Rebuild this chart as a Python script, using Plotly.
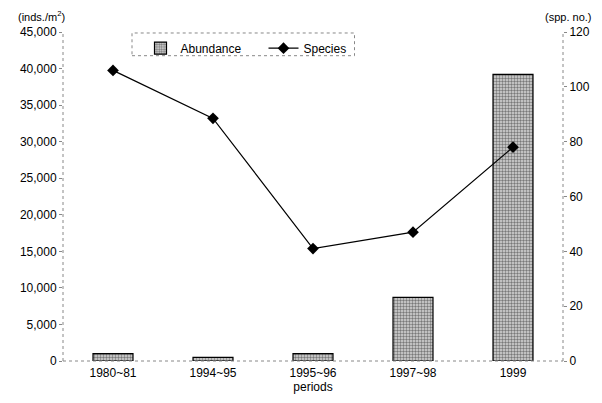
import plotly.graph_objects as go

periods = ["1980~81", "1994~95", "1995~96", "1997~98", "1999"]
abundance = [1000, 500, 1000, 8700, 39200]
species = [106, 88.5, 41, 47, 78]
left_ticks = [0, 5000, 10000, 15000, 20000, 25000, 30000, 35000, 40000, 45000]
right_ticks = [0, 20, 40, 60, 80, 100, 120]

fig = go.Figure()
fig.add_trace(go.Bar(
    x=periods, y=abundance, name="Abundance",
    marker=dict(color="#bdbdbd", line=dict(color="black", width=1.2),
                pattern=dict(shape=".", fgcolor="#1a1a1a", bgcolor="#d8d8d8", size=3, solidity=0.5)),
    yaxis="y"))
fig.add_trace(go.Scatter(
    x=periods, y=species, name="Species", mode="lines+markers",
    line=dict(color="black", width=1.2),
    marker=dict(symbol="diamond", size=9, color="black"),
    yaxis="y2"))

axis_common = dict(showgrid=False, zeroline=False, showline=False,
                   ticks="outside", ticklen=3, tickcolor="#888888",
                   tickfont=dict(family="Liberation Sans", size=12, color="black"))

fig.update_layout(
    width=594, height=395,
    margin=dict(l=55, r=33, t=24, b=39),
    paper_bgcolor="white", plot_bgcolor="white",
    bargap=0.6,
    font=dict(family="Liberation Sans", size=12, color="black"),
    xaxis=dict(showgrid=False, showline=False, ticks="", ticklabelstandoff=3,
               tickfont=dict(family="Liberation Sans", size=12, color="black"),
               title=dict(text="periods", standoff=3, font=dict(size=12))),
    yaxis=dict(range=[0, 45000], tickvals=left_ticks, tickformat=",d", **axis_common),
    yaxis2=dict(range=[0, 120], tickvals=right_ticks, overlaying="y", side="right", **axis_common),
    legend=dict(orientation="h", x=0.155, y=0.995, xanchor="left", yanchor="top",
                bgcolor="rgba(0,0,0,0)", borderwidth=0, font=dict(size=12),
                itemwidth=30, entrywidth=78, tracegroupgap=0),
    showlegend=True,
)

dot = dict(color="#888888", width=1, dash="dot")
fig.add_shape(type="line", xref="paper", yref="paper", x0=0, x1=0, y0=0, y1=1, line=dot)
fig.add_shape(type="line", xref="paper", yref="paper", x0=1, x1=1, y0=0, y1=1, line=dot)
fig.add_shape(type="line", xref="paper", yref="paper", x0=0, x1=1, y0=0, y1=0, line=dot)
fig.add_shape(type="rect", xref="paper", yref="paper", x0=0.138, x1=0.583, y0=0.928, y1=0.997,
              line=dot)

fig.add_annotation(text="(inds./m<sup>2</sup>)", xref="paper", yref="paper", x=-0.095, y=1.02,
                   xanchor="left", yanchor="bottom", showarrow=False, font=dict(size=11))
fig.add_annotation(text="(spp. no.)", xref="paper", yref="paper", x=1.06, y=1.02,
                   xanchor="right", yanchor="bottom", showarrow=False, font=dict(size=11))

fig.write_html("out.html")
